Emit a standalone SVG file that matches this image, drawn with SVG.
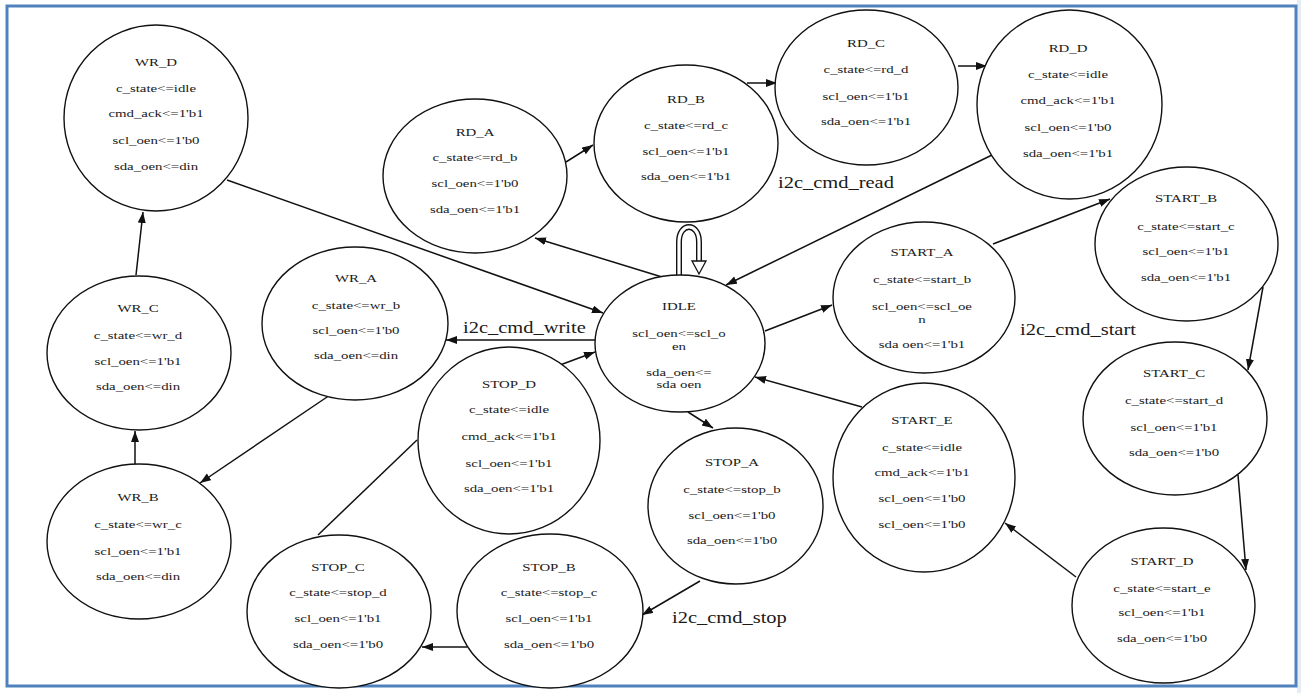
<svg xmlns="http://www.w3.org/2000/svg" width="1301" height="693" viewBox="0 0 1301 693">
<style>
.node ellipse{fill:#fff;stroke:#111;stroke-width:1.4}
.node text{font-family:"Liberation Serif","Times New Roman",serif;font-size:11px;text-anchor:middle;fill:#1a1a1a}
.edge{stroke:#111;stroke-width:1.5;fill:none}
.arr{marker-end:url(#ah)}
.lbl{font-family:"Liberation Serif","Times New Roman",serif;font-size:16px;fill:#1a1a1a}
</style>
<defs>
<marker id="ah" markerUnits="userSpaceOnUse" markerWidth="12" markerHeight="9" refX="11" refY="4" orient="auto">
<path d="M0,0 L11,4 L0,8 z" fill="#111"/>
</marker>
</defs>
<rect x="0" y="0" width="1301" height="693" fill="#fff"/>
<rect x="1297" y="0" width="4" height="693" fill="#e6ecf3"/>
<rect x="7" y="6" width="1289" height="680" fill="none" stroke="#4f81bd" stroke-width="3"/>

<g id="connectors">
<line class="edge arr" x1="227" y1="180" x2="603" y2="313"/>
<line class="edge arr" x1="662" y1="277" x2="535" y2="238"/>
<line class="edge arr" x1="566" y1="162" x2="593" y2="145"/>
<line class="edge arr" x1="747" y1="83" x2="777" y2="83"/>
<line class="edge arr" x1="958" y1="66" x2="987" y2="66"/>
<line class="edge arr" x1="992" y1="155" x2="726" y2="285"/>
<line class="edge arr" x1="765" y1="331" x2="832" y2="305"/>
<line class="edge arr" x1="993" y1="244" x2="1110" y2="199"/>
<line class="edge arr" x1="1263" y1="287" x2="1248" y2="370"/>
<line class="edge arr" x1="1238" y1="475" x2="1246" y2="570"/>
<line class="edge arr" x1="1076" y1="577" x2="1005" y2="523"/>
<line class="edge arr" x1="862" y1="407" x2="755" y2="377"/>
<line class="edge arr" x1="688" y1="412" x2="713" y2="428"/>
<line class="edge arr" x1="700" y1="581" x2="642" y2="615"/>
<line class="edge arr" x1="467" y1="647" x2="422" y2="647"/>
<line class="edge" x1="318" y1="535" x2="417" y2="440"/>
<line class="edge arr" x1="560" y1="365" x2="595" y2="352"/>
<line class="edge arr" x1="595" y1="340" x2="446" y2="340"/>
<line class="edge arr" x1="330" y1="395" x2="200" y2="483"/>
<line class="edge arr" x1="135" y1="464" x2="135" y2="431"/>
<line class="edge arr" x1="136" y1="275" x2="143" y2="212"/>
<path d="M679,277 L679,242 C679,222 699,222 699,242 L699,261" fill="none" stroke="#111" stroke-width="6"/>
<path d="M679,279 L679,242 C679,222 699,222 699,242 L699,262" fill="none" stroke="#fff" stroke-width="3.2"/>
<polygon points="692,261 706,261 699,274" fill="#fff" stroke="#111" stroke-width="1.3"/>
</g>

<g id="labels">
<text class="lbl" transform="translate(778 188) scale(1.28 1)">i2c_cmd_read</text>
<text class="lbl" transform="translate(463 333) scale(1.28 1)">i2c_cmd_write</text>
<text class="lbl" transform="translate(1020 335) scale(1.28 1)">i2c_cmd_start</text>
<text class="lbl" transform="translate(672 623) scale(1.28 1)">i2c_cmd_stop</text>
</g>

<g id="WR_D" class="node"><ellipse cx="156" cy="118" rx="92" ry="93"/>
<g transform="translate(156 0) scale(1.35 1)"><text y="66">WR_D</text><text y="92">c_state&lt;=idle</text><text y="117">cmd_ack&lt;=1'b1</text><text y="144">scl_oen&lt;=1'b0</text><text y="170">sda_oen&lt;=din</text></g></g>

<g id="RD_A" class="node"><ellipse cx="475" cy="176" rx="92" ry="77"/>
<g transform="translate(475 0) scale(1.35 1)"><text y="136">RD_A</text><text y="161">c_state&lt;=rd_b</text><text y="187">scl_oen&lt;=1'b0</text><text y="213">sda_oen&lt;=1'b1</text></g></g>

<g id="RD_B" class="node"><ellipse cx="686" cy="143.5" rx="92" ry="78.5"/>
<g transform="translate(686 0) scale(1.35 1)"><text y="103">RD_B</text><text y="129">c_state&lt;=rd_c</text><text y="155">scl_oen&lt;=1'b1</text><text y="180">sda_oen&lt;=1'b1</text></g></g>

<g id="RD_C" class="node"><ellipse cx="866.5" cy="87.5" rx="91.5" ry="77.5"/>
<g transform="translate(866 0) scale(1.35 1)"><text y="47">RD_C</text><text y="73">c_state&lt;=rd_d</text><text y="100">scl_oen&lt;=1'b1</text><text y="125">sda_oen&lt;=1'b1</text></g></g>

<g id="RD_D" class="node"><ellipse cx="1069.5" cy="104.5" rx="92.5" ry="94.5"/>
<g transform="translate(1068 0) scale(1.35 1)"><text y="52">RD_D</text><text y="78">c_state&lt;=idle</text><text y="104">cmd_ack&lt;=1'b1</text><text y="131">scl_oen&lt;=1'b0</text><text y="157">sda_oen&lt;=1'b1</text></g></g>

<g id="START_B" class="node"><ellipse cx="1186.5" cy="244" rx="91.5" ry="77"/>
<g transform="translate(1186 0) scale(1.35 1)"><text y="202">START_B</text><text y="230">c_state&lt;=start_c</text><text y="255">scl_oen&lt;=1'b1</text><text y="281">sda_oen&lt;=1'b1</text></g></g>

<g id="START_A" class="node"><ellipse cx="924" cy="297.5" rx="91" ry="75.5"/>
<g transform="translate(922 0) scale(1.35 1)"><text y="256">START_A</text><text y="283">c_state&lt;=start_b</text><text y="310">scl_oen&lt;=scl_oe</text><text y="323">n</text><text y="348">sda oen&lt;=1'b1</text></g></g>

<g id="START_C" class="node"><ellipse cx="1175" cy="418.5" rx="92" ry="76.5"/>
<g transform="translate(1174 0) scale(1.35 1)"><text y="377">START_C</text><text y="404">c_state&lt;=start_d</text><text y="431">scl_oen&lt;=1'b1</text><text y="456">sda_oen&lt;=1'b0</text></g></g>

<g id="START_D" class="node"><ellipse cx="1163.5" cy="605.5" rx="91.5" ry="77.5"/>
<g transform="translate(1162 0) scale(1.35 1)"><text y="565">START_D</text><text y="592">c_state&lt;=start_e</text><text y="616">scl_oen&lt;=1'b1</text><text y="642">sda_oen&lt;=1'b0</text></g></g>

<g id="START_E" class="node"><ellipse cx="924" cy="477.5" rx="91" ry="94.5"/>
<g transform="translate(922 0) scale(1.35 1)"><text y="424">START_E</text><text y="451">c_state&lt;=idle</text><text y="476">cmd_ack&lt;=1'b1</text><text y="502">scl_oen&lt;=1'b0</text><text y="528">scl_oen&lt;=1'b0</text></g></g>

<g id="IDLE" class="node"><ellipse cx="680" cy="343.5" rx="85" ry="68.5"/>
<g transform="translate(679 0) scale(1.35 1)"><text y="310">IDLE</text><text y="337">scl_oen&lt;=scl_o</text><text y="350">en</text><text y="376">sda_oen&lt;=</text><text y="388">sda oen</text></g></g>

<g id="WR_A" class="node"><ellipse cx="355" cy="323.5" rx="93" ry="76.5"/>
<g transform="translate(356 0) scale(1.35 1)"><text y="282">WR_A</text><text y="309">c_state&lt;=wr_b</text><text y="334">scl_oen&lt;=1'b0</text><text y="359">sda_oen&lt;=din</text></g></g>

<g id="WR_C" class="node"><ellipse cx="139" cy="353" rx="92" ry="77"/>
<g transform="translate(138 0) scale(1.35 1)"><text y="312">WR_C</text><text y="339">c_state&lt;=wr_d</text><text y="365">scl_oen&lt;=1'b1</text><text y="390">sda_oen&lt;=din</text></g></g>

<g id="WR_B" class="node"><ellipse cx="139" cy="541.5" rx="92" ry="77.5"/>
<g transform="translate(138 0) scale(1.35 1)"><text y="501">WR_B</text><text y="528">c_state&lt;=wr_c</text><text y="555">scl_oen&lt;=1'b1</text><text y="580">sda_oen&lt;=din</text></g></g>

<g id="STOP_D" class="node"><ellipse cx="509" cy="440.5" rx="91" ry="93.5"/>
<g transform="translate(509 0) scale(1.35 1)"><text y="388">STOP_D</text><text y="413">c_state&lt;=idle</text><text y="440">cmd_ack&lt;=1'b1</text><text y="467">scl_oen&lt;=1'b1</text><text y="492">sda_oen&lt;=1'b1</text></g></g>

<g id="STOP_C" class="node"><ellipse cx="339" cy="611.5" rx="92" ry="76.5"/>
<g transform="translate(338 0) scale(1.35 1)"><text y="571">STOP_C</text><text y="596">c_state&lt;=stop_d</text><text y="622">scl_oen&lt;=1'b1</text><text y="648">sda_oen&lt;=1'b0</text></g></g>

<g id="STOP_B" class="node"><ellipse cx="550" cy="611" rx="93" ry="77"/>
<g transform="translate(549 0) scale(1.35 1)"><text y="571">STOP_B</text><text y="596">c_state&lt;=stop_c</text><text y="622">scl_oen&lt;=1'b1</text><text y="648">sda_oen&lt;=1'b0</text></g></g>

<g id="STOP_A" class="node"><ellipse cx="735.5" cy="506" rx="87.5" ry="78"/>
<g transform="translate(732 0) scale(1.35 1)"><text y="466">STOP_A</text><text y="493">c_state&lt;=stop_b</text><text y="519">scl_oen&lt;=1'b0</text><text y="544">sda_oen&lt;=1'b0</text></g></g>
</svg>
